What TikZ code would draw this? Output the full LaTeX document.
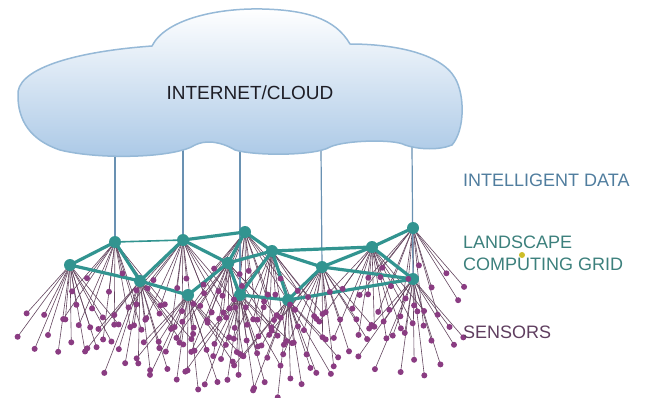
\documentclass[tikz,border=0pt]{standalone}
\usepackage{fontspec}
\setmainfont{Liberation Sans}
\usetikzlibrary{calc}
\pgfdeclarelayer{wires}
\pgfdeclarelayer{links}
\pgfsetlayers{wires,links,main}
\definecolor{gridteal}{RGB}{50,148,144}
\definecolor{sensorpurple}{RGB}{138,60,130}
\definecolor{wirepurple}{RGB}{100,70,95}
\definecolor{uplink}{RGB}{105,145,178}
\definecolor{cloudrim}{RGB}{150,185,215}
\definecolor{cloudblue}{RGB}{170,200,230}
\definecolor{datablue}{RGB}{80,125,158}
\definecolor{gridtext}{RGB}{60,128,124}
\definecolor{sensortext}{RGB}{95,62,95}
\definecolor{speck}{RGB}{205,190,40}

\begin{document}
\begin{tikzpicture}[x=1pt,y=-1pt,
hub/.style={circle,fill=gridteal,inner sep=0pt,minimum size=12pt},
sensor/.style={circle,fill=sensorpurple,inner sep=0pt,minimum size=6pt},
wire/.style={draw=wirepurple,line width=0.6pt},
link/.style={draw=gridteal,line width=3.2pt},
uplinkline/.style={draw=uplink,line width=1.2pt},
caption/.style={font=\fontsize{18}{22}\selectfont,anchor=west,align=left,inner sep=0pt}]
\useasboundingbox (0,0) rectangle (652,398);

\shade[top color=white,bottom color=cloudblue,draw=cloudrim,line width=1.5pt]
(18,96) .. controls (15,70) and (70,52) .. (152,46)
.. controls (165,20) and (215,8) .. (262,9)
.. controls (305,10) and (335,18) .. (350,44)
.. controls (390,44) and (440,52) .. (455,78)
.. controls (465,95) and (465,130) .. (452,145)
.. controls (440,150) and (420,150) .. (405,145)
.. controls (395,139) and (345,140) .. (330,147)
.. controls (315,156) and (255,156) .. (235,150)
.. controls (220,141) and (205,140) .. (195,145)
.. controls (175,158) and (100,160) .. (60,150)
.. controls (30,140) and (18,120) .. (18,96) -- cycle;
\node[text={rgb,255:red,30;green,30;blue,38},font=\fontsize{19}{22}\selectfont] (cloud) at (250,93) {INTERNET/CLOUD};

\node[hub] (g1) at (70,265) {};
\node[hub] (g2) at (115,242) {};
\node[hub] (g3) at (140,281) {};
\node[hub] (g4) at (183,240) {};
\node[hub] (g5) at (188,295) {};
\node[hub] (g6) at (228,263) {};
\node[hub] (g7) at (240,295) {};
\node[hub] (g8) at (245,232) {};
\node[hub] (g9) at (272,251) {};
\node[hub] (g10) at (288,300) {};
\node[hub] (g11) at (322,267) {};
\node[hub] (g12) at (372,247) {};
\node[hub] (g13) at (413,228) {};
\node[hub] (g14) at (413,279) {};

\coordinate (u1) at (115,150);
\coordinate (u2) at (183,150);
\coordinate (u3) at (240,152);
\coordinate (u4) at (321,150);
\coordinate (u5) at (412,147);

\pgfmathsetseed{7}
\foreach \h in {g1,g2,g3,g4,g5,g6,g7,g8,g9,g10,g11,g12,g13,g14}
\foreach \dx/\dy [count=\i] in {-52/70,-44/52,-36/84,-28/42,-21/64,-13/90,-6/50,0/76,6/38,13/92,20/60,27/80,35/46,43/70,50/56}{
\pgfmathsetmacro\jx{\dx+3*rand}
\pgfmathsetmacro\jy{\dy+8*rand}
\node[sensor] (s\h-\i) at ($(\h)+(\jx,\jy)$) {};
\begin{pgfonlayer}{wires}
\draw[wire] (\h.center) -- (s\h-\i.center);
\end{pgfonlayer}
}

\begin{pgfonlayer}{links}
\draw[uplinkline] (u1) -- (g2.center);
\draw[uplinkline] (u2) -- (g4.center);
\draw[uplinkline] (u3) -- (g7.center);
\draw[uplinkline] (u4) -- (g11.center);
\draw[uplinkline] (u5) -- (g14.center);
\draw[link,line width=1.6pt] (g2) -- (g4);
\foreach \a/\b in {g1/g2,g2/g3,g1/g3,g3/g4,g3/g5,g5/g6,g4/g6,g4/g8,g8/g6,g8/g9,g6/g9,g6/g7,g9/g7,g9/g10,g7/g10,g9/g11,g9/g12,g11/g12,g12/g13,g12/g14,g11/g14,g10/g14,g10/g11}
\draw[link] (\a.center) -- (\b.center);
\end{pgfonlayer}

\node[caption,text=datablue] (data) at (463,180) {INTELLIGENT DATA};
\node[caption,text=gridtext] (grid) at (463,253) {LANDSCAPE\\COMPUTING GRID};
\node[circle,fill=speck,inner sep=0pt,minimum size=6pt] (dot) at (522,255) {};
\node[caption,text=sensortext] (sensors) at (463,332) {SENSORS};
\end{tikzpicture}
\end{document}
